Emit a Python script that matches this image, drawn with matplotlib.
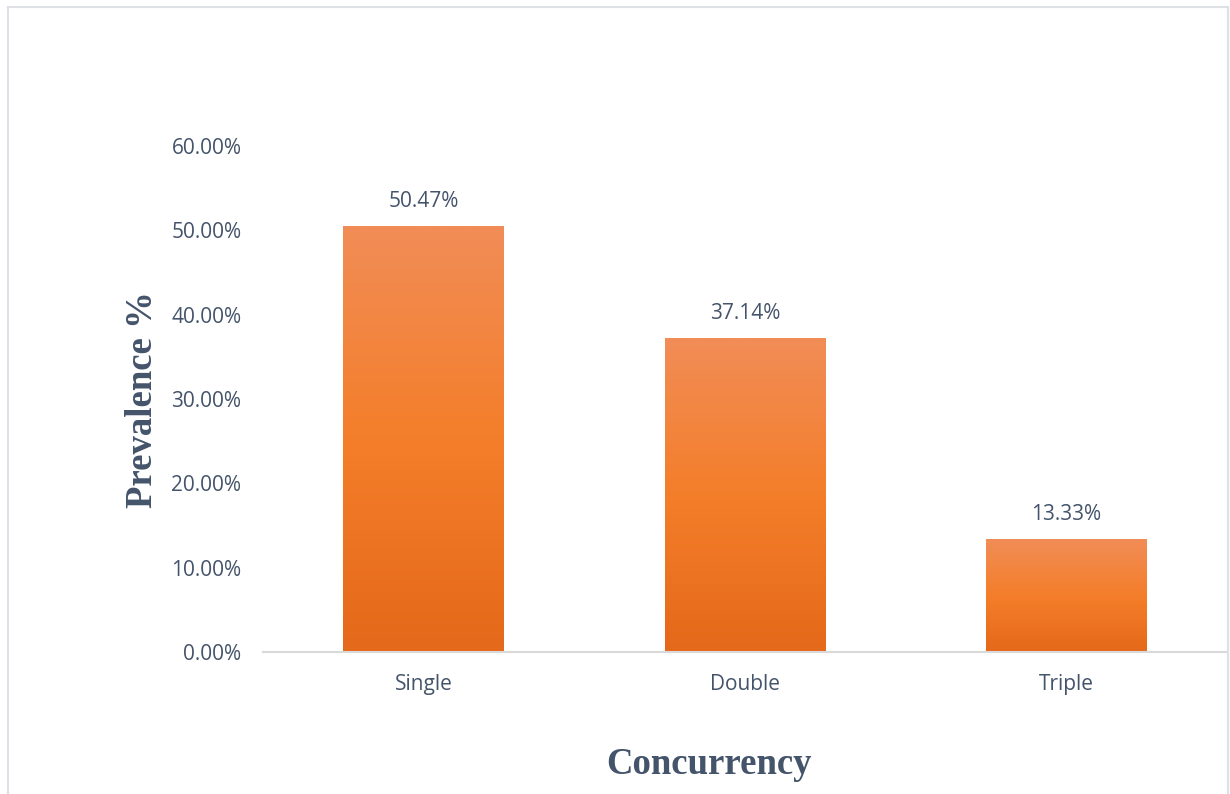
import numpy as np
import matplotlib.pyplot as plt
from matplotlib.colors import LinearSegmentedColormap
from matplotlib.patches import Rectangle

categories = ['Single', 'Double', 'Triple']
prevalence = [0.5047, 0.3714, 0.1333]
value_labels = ['50.47%', '37.14%', '13.33%']
y_ticks = [0.0, 0.1, 0.2, 0.3, 0.4, 0.5, 0.6]

text_color = '#44546A'
grad = LinearSegmentedColormap.from_list(
    'bar_grad', ['#E4691A', '#F47E2A', '#F18D57'])

fig = plt.figure(figsize=(12.3, 7.94), dpi=100)
ax = fig.add_axes([263 / 1230, 142 / 794, 964 / 1230, 506 / 794])

x = np.arange(len(categories))
width = 0.5
bars = ax.bar(x, prevalence, width=width, color='none', zorder=2)

# vertical gradient inside each bar
g = np.linspace(0, 1, 256).reshape(-1, 1)
for b in bars:
    x0, y0 = b.get_x(), b.get_y()
    w, h = b.get_width(), b.get_height()
    ax.imshow(g, cmap=grad, origin='lower', aspect='auto',
              extent=[x0, x0 + w, y0, y0 + h], zorder=2)

for xi, v, lab in zip(x, prevalence, value_labels):
    ax.text(xi, v + 0.030, lab, ha='center', va='center',
            fontsize=15, family='Open Sans', color=text_color)

ax.set_xlim(-0.5, len(categories) - 0.5)
ax.set_ylim(0, 0.6)
ax.set_yticks(y_ticks)
ax.set_yticklabels([f'{t * 100:.2f}%' for t in y_ticks],
                   family='Open Sans', fontsize=15, color=text_color)
ax.set_xticks(x)
ax.set_xticklabels(categories, family='Open Sans', fontsize=15,
                   color=text_color)
ax.tick_params(axis='y', length=0, pad=15.5)
ax.tick_params(axis='x', length=0, pad=16)

for s in ['top', 'right', 'left']:
    ax.spines[s].set_visible(False)
ax.spines['bottom'].set_color('#D9D9D9')
ax.spines['bottom'].set_linewidth(1.5)

fig.text(143 / 1230, 1 - 400 / 794, 'Prevalence %', rotation=90,
         ha='center', va='center', fontsize=26.5, fontweight='bold',
         family='Liberation Serif', color=text_color)
fig.text(709 / 1230, 1 - 765 / 794, 'Concurrency', ha='center',
         va='center', fontsize=26.5, fontweight='bold',
         family='Liberation Serif', color=text_color)

# light frame around the chart area
fig.patches.append(Rectangle((8 / 1230, -0.01), 1220 / 1230, 1 - 7 / 794 + 0.01,
                             transform=fig.transFigure, fill=False,
                             edgecolor='#DDE1E6', linewidth=1.5))

fig.savefig('out.png', dpi=100)
